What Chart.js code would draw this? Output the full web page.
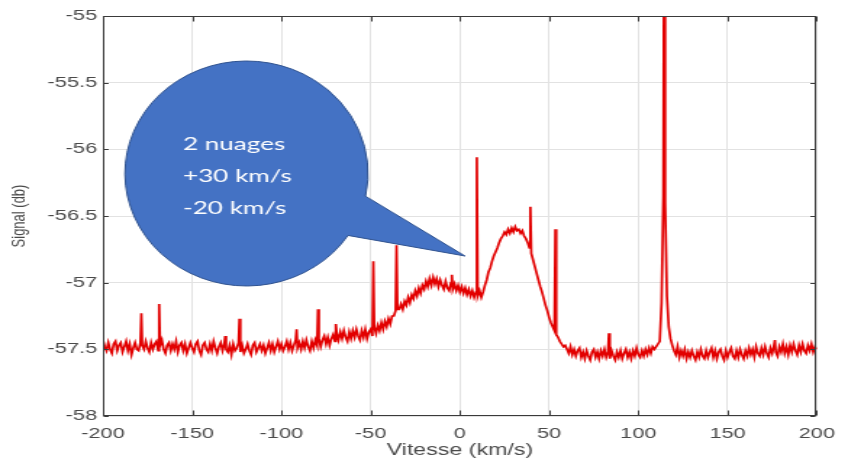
<!DOCTYPE html>
<html><head><meta charset="utf-8">
<script src="https://cdn.jsdelivr.net/npm/chart.js@4.4.1/dist/chart.umd.min.js"></script>
<style>
html,body{margin:0;padding:0;background:#fff;overflow:hidden;}
#wrap{position:absolute;left:0;top:0;width:585px;height:466px;transform:scaleX(1.44957);transform-origin:0 0;}
</style></head><body>
<div id="wrap"><canvas id="c" width="585" height="466"></canvas></div>
<script>
// ---- data ----
const velocity = [
-200,-199,-198,-197,-196,-195,-194,-193,-192,-191,
-190,-189,-188,-187,-186,-185,-184,-183,-182,-181,
-180,-179,-178,-177,-176,-175,-174,-173,-172,-171,
-170,-169,-168,-167,-166,-165,-164,-163,-162,-161,
-160,-159,-158,-157,-156,-155,-154,-153,-152,-151,
-150,-149,-148,-147,-146,-145,-144,-143,-142,-141,
-140,-139,-138,-137,-136,-135,-134,-133,-132,-131,
-130,-129,-128,-127,-126,-125,-124,-123,-122,-121,
-120,-119,-118,-117,-116,-115,-114,-113,-112,-111,
-110,-109,-108,-107,-106,-105,-104,-103,-102,-101,
-100,-99,-98,-97,-96,-95,-94,-93,-92,-91,
-90,-89,-88,-87,-86,-85,-84,-83,-82,-81,
-80,-79,-78,-77,-76,-75,-74,-73,-72,-71,
-70,-69,-68,-67,-66,-65,-64,-63,-62,-61,
-60,-59,-58,-57,-56,-55,-54,-53,-52,-51,
-50,-49,-48,-47,-46,-45,-44,-43,-42,-41,
-40,-39,-38,-37,-36,-35,-34,-33,-32,-31,
-30,-29,-28,-27,-26,-25,-24,-23,-22,-21,
-20,-19,-18,-17,-16,-15,-14,-13,-12,-11,
-10,-9,-8,-7,-6,-5,-4,-3,-2,-1,
0,1,2,3,4,5,6,7,8,9,
10,11,12,13,14,15,16,17,18,19,
20,21,22,23,24,25,26,27,28,29,
30,31,32,33,34,35,36,37,38,39,
40,41,42,43,44,45,46,47,48,49,
50,51,52,53,54,55,56,57,58,59,
60,61,62,63,64,65,66,67,68,69,
70,71,72,73,74,75,76,77,78,79,
80,81,82,83,84,85,86,87,88,89,
90,91,92,93,94,95,96,97,98,99,
100,101,102,103,104,105,106,107,108,109,
110,111,112,113,114,115,116,117,118,119,
120,121,122,123,124,125,126,127,128,129,
130,131,132,133,134,135,136,137,138,139,
140,141,142,143,144,145,146,147,148,149,
150,151,152,153,154,155,156,157,158,159,
160,161,162,163,164,165,166,167,168,169,
170,171,172,173,174,175,176,177,178,179,
180,181,182,183,184,185,186,187,188,189,
190,191,192,193,194,195,196,197,198,199,200];

const signal = [
-57.43,-57.48,-57.51,-57.45,-57.50,-57.53,-57.46,-57.44,-57.51,-57.47,
-57.45,-57.52,-57.48,-57.44,-57.51,-57.46,-57.54,-57.49,-57.45,-57.50,
-57.51,-57.45,-57.47,-57.50,-57.44,-57.49,-57.52,-57.45,-57.50,-57.46,
-57.44,-57.51,-57.47,-57.43,-57.50,-57.53,-57.47,-57.45,-57.51,-57.46,
-57.50,-57.44,-57.52,-57.47,-57.45,-57.51,-57.46,-57.53,-57.49,-57.45,
-57.49,-57.52,-57.46,-57.44,-57.51,-57.54,-57.47,-57.45,-57.50,-57.52,
-57.46,-57.51,-57.44,-57.49,-57.53,-57.48,-57.45,-57.51,-57.46,-57.50,
-57.52,-57.47,-57.54,-57.46,-57.51,-57.49,-57.45,-57.52,-57.47,-57.53,
-57.50,-57.46,-57.51,-57.54,-57.47,-57.45,-57.52,-57.49,-57.46,-57.51,
-57.47,-57.53,-57.49,-57.45,-57.51,-57.46,-57.52,-57.48,-57.44,-57.50,
-57.46,-57.51,-57.48,-57.44,-57.50,-57.45,-57.51,-57.47,-57.43,-57.49,
-57.45,-57.50,-57.44,-57.49,-57.43,-57.48,-57.51,-57.44,-57.49,-57.43,
-57.47,-57.42,-57.48,-57.43,-57.40,-57.46,-57.41,-57.47,-57.42,-57.39,
-57.44,-57.38,-57.43,-57.37,-57.42,-57.36,-57.41,-57.44,-57.37,-57.42,
-57.36,-57.41,-57.35,-57.40,-57.43,-57.36,-57.41,-57.35,-57.42,-57.37,
-57.35,-57.40,-57.33,-57.38,-57.32,-57.36,-57.30,-57.35,-57.29,-57.33,
-57.27,-57.31,-57.25,-57.25,-57.21,-57.20,-57.20,-57.16,-57.20,-57.14,
-57.17,-57.11,-57.15,-57.09,-57.12,-57.06,-57.10,-57.04,-57.08,-57.02,
-57.05,-56.99,-57.03,-56.97,-57.02,-56.96,-57.01,-56.97,-57.03,-56.98,
-57.02,-57.05,-56.99,-57.04,-57.06,-57.00,-57.05,-57.01,-57.06,-57.02,
-57.07,-57.03,-57.08,-57.04,-57.09,-57.05,-57.10,-57.06,-57.11,-57.07,
-57.10,-57.06,-57.11,-57.07,-57.02,-56.98,-56.92,-56.89,-56.84,-56.80,
-56.77,-56.74,-56.70,-56.67,-56.65,-56.62,-56.64,-56.60,-56.63,-56.59,
-56.62,-56.58,-56.61,-56.60,-56.63,-56.61,-56.65,-56.67,-56.70,-56.74,
-56.78,-56.83,-56.88,-56.93,-56.98,-57.03,-57.07,-57.12,-57.17,-57.21,
-57.26,-57.30,-57.33,-57.36,-57.39,-57.41,-57.44,-57.46,-57.48,-57.47,
-57.50,-57.53,-57.48,-57.54,-57.50,-57.55,-57.51,-57.49,-57.56,-57.52,
-57.57,-57.51,-57.55,-57.58,-57.52,-57.50,-57.56,-57.52,-57.57,-57.51,
-57.55,-57.50,-57.56,-57.52,-57.57,-57.51,-57.55,-57.58,-57.52,-57.56,
-57.51,-57.57,-57.53,-57.50,-57.56,-57.52,-57.57,-57.51,-57.55,-57.49,
-57.54,-57.56,-57.51,-57.55,-57.50,-57.54,-57.49,-57.53,-57.48,-57.50,
-57.48,-57.46,-57.44,-57.15,-56.35,-56.40,-57.10,-57.33,-57.42,-57.47,
-57.51,-57.54,-57.48,-57.56,-57.51,-57.55,-57.50,-57.57,-57.52,-57.56,
-57.51,-57.55,-57.58,-57.52,-57.56,-57.50,-57.55,-57.57,-57.51,-57.56,
-57.52,-57.49,-57.56,-57.51,-57.57,-57.52,-57.50,-57.55,-57.58,-57.51,
-57.56,-57.52,-57.49,-57.55,-57.57,-57.51,-57.56,-57.50,-57.54,-57.57,
-57.51,-57.55,-57.49,-57.54,-57.50,-57.56,-57.48,-57.53,-57.55,-57.49,
-57.54,-57.48,-57.53,-57.56,-57.49,-57.53,-57.47,-57.52,-57.55,-57.48,
-57.52,-57.46,-57.53,-57.48,-57.54,-57.47,-57.52,-57.46,-57.51,-57.54,
-57.47,-57.52,-57.46,-57.51,-57.53,-57.47,-57.51,-57.46,-57.52,-57.48,-57.50];

// narrow spikes (interference lines) and the strong line near +115 km/s
const spikeVelocity = [-178.5,-168.5,-131.5,-123.5,-91.5,-79.5,-69.5,-48.5,-35.5,-4.5,9.5,39.5,53.5,83.5,114.5,176.5];
const spikeSignal   = [-57.23,-57.16,-57.40,-57.27,-57.35,-57.20,-57.31,-56.84,-56.72,-56.94,-56.06,-56.43,-56.60,-57.38,-53.5,-57.43];

const xTicks = [-200,-150,-100,-50,0,50,100,150,200];
const yTicks = [-58,-57.5,-57,-56.5,-56,-55.5,-55];
const xTitle = 'Vitesse (km/s)';
const yTitle = 'Signal (db)';
const bubbleLines = ['2 nuages','+30 km/s','-20 km/s'];

// ---- build the table for the library ----
const points = velocity.map((v,i)=>({x:v,y:signal[i]}))
  .concat(spikeVelocity.map((v,i)=>({x:v,y:spikeSignal[i]})))
  .sort((a,b)=>a.x-b.x);

const SX = 1.44957; // the reference picture is stretched horizontally
const FONT = "'Liberation Sans', Arial, sans-serif";

const framePlugin = {
  id:'frame',
  afterDatasetsDraw(chart){
    const {ctx, chartArea:a, scales:{x,y}} = chart;
    ctx.save();
    ctx.strokeStyle = '#3a3a3a';
    ctx.lineWidth = 1;
    const L = Math.round(a.left) + 0.5, R = Math.round(a.right) - 0.5;
    const T = Math.round(a.top) + 0.5, B = Math.round(a.bottom) - 0.5;
    ctx.strokeRect(L, T, R - L, B - T);
    ctx.beginPath();
    xTicks.forEach(v=>{
      const px = Math.round(x.getPixelForValue(v)) + 0.5;
      ctx.moveTo(px, B); ctx.lineTo(px, B - 5);
      ctx.moveTo(px, T); ctx.lineTo(px, T + 5);
    });
    yTicks.forEach(v=>{
      const py = Math.round(y.getPixelForValue(v)) + 0.5;
      ctx.moveTo(L, py); ctx.lineTo(L + 5/SX, py);
      ctx.moveTo(R, py); ctx.lineTo(R - 5/SX, py);
    });
    ctx.stroke();

    // speech bubble
    const cx = 246.5/SX, cy = 173.5, rx = 121.5/SX, ry = 112.5;
    const t1 = 0.203, t2 = 0.583;
    const tipX = 465/SX, tipY = 256;
    ctx.beginPath();
    ctx.ellipse(cx, cy, rx, ry, 0, t2, t1 + 2*Math.PI, false);
    ctx.lineTo(tipX, tipY);
    ctx.closePath();
    ctx.fillStyle = '#4472C4';
    ctx.fill();
    ctx.strokeStyle = '#2F528F';
    ctx.lineWidth = 1;
    ctx.stroke();

    ctx.fillStyle = '#ffffff';
    ctx.font = "18px Lato, 'Open Sans', sans-serif";
    ctx.textAlign = 'left';
    ctx.textBaseline = 'alphabetic';
    bubbleLines.forEach((t,i)=> ctx.fillText(t, 183/SX, 150 + i*32));
    ctx.restore();
  }
};

new Chart(document.getElementById('c'), {
  type:'line',
  data:{ datasets:[{
    data: points,
    borderColor:'rgb(226,0,0)',
    borderWidth:1.7,
    pointRadius:0,
    tension:0,
    fill:false
  }]},
  options:{
    responsive:false,
    animation:false,
    devicePixelRatio:1,
    parsing:false,
    normalized:true,
    layout:{ padding:{ left:0, top:16, right:20, bottom:0 } },
    plugins:{ legend:{display:false}, tooltip:{enabled:false} },
    scales:{
      x:{
        type:'linear', min:-200, max:200,
        afterBuildTicks(s){ s.ticks = xTicks.map(v=>({value:v})); },
        afterFit(s){ s.height = 50; },
        grid:{ color:'#e2e2e2', lineWidth:1, drawTicks:false },
        border:{ display:false },
        ticks:{ padding:9, color:'#4a4a4a', font:{ family:FONT, size:15 }, maxRotation:0, autoSkip:false, callback:v=>String(v) },
        title:{ display:true, text:xTitle, color:'#4a4a4a', font:{ family:FONT, size:16 }, padding:{ top:0, bottom:6 } }
      },
      y:{
        type:'linear', min:-58, max:-55,
        afterBuildTicks(s){ s.ticks = yTicks.map(v=>({value:v})); },
        afterFit(s){ s.width = 71; },
        grid:{ color:'#e2e2e2', lineWidth:1, drawTicks:false },
        border:{ display:false },
        ticks:{ padding:4, color:'#4a4a4a', font:{ family:FONT, size:15 }, autoSkip:false, callback:v=>String(v) },
        title:{ display:true, text:yTitle, color:'#4a4a4a', font:{ family:FONT, size:13 }, padding:{ top:6, bottom:0 } }
      }
    }
  },
  plugins:[framePlugin]
});
</script>
</body></html>
